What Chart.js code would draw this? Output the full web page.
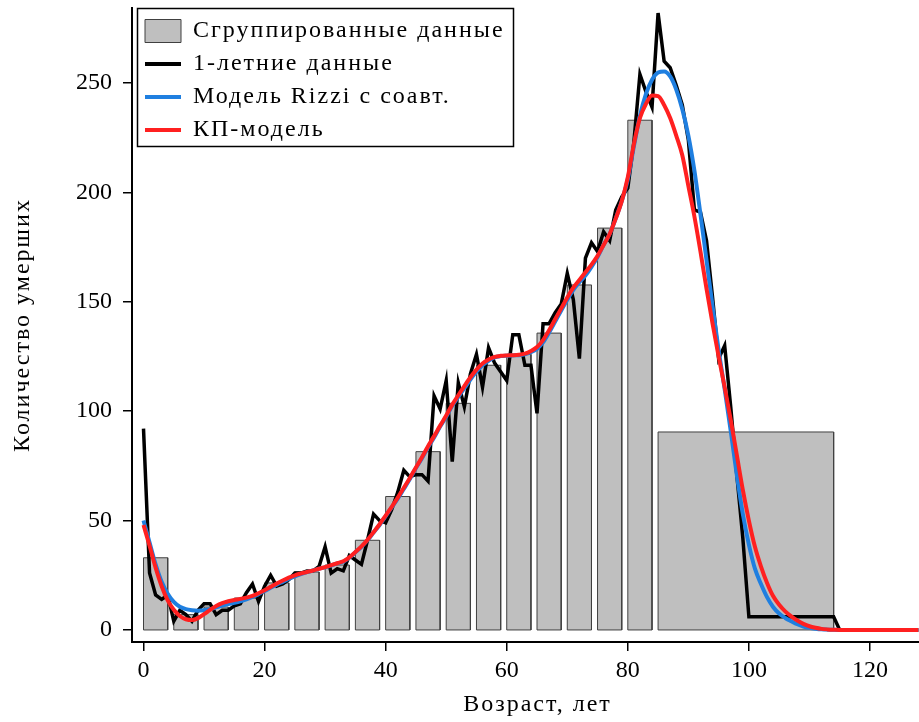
<!DOCTYPE html>
<html><head><meta charset="utf-8">
<script src="https://cdn.jsdelivr.net/npm/chart.js@4.4.1/dist/chart.umd.min.js"></script>
<style>html,body{margin:0;padding:0;background:#fff;}#wrap{width:919px;height:722px;}</style>
</head><body><div id="wrap"><canvas id="c" width="919" height="722"></canvas></div>
<script>
const ages = [0,1,2,3,4,5,6,7,8,9,10,11,12,13,14,15,16,17,18,19,20,21,22,23,24,25,26,27,28,29,30,31,32,33,34,35,36,37,38,39,40,41,42,43,44,45,46,47,48,49,50,51,52,53,54,55,56,57,58,59,60,61,62,63,64,65,66,67,68,69,70,71,72,73,74,75,76,77,78,79,80,81,82,83,84,85,86,87,88,89,90,91,92,93,94,95,96,97,98,99,100,101,102,103,104,105,106,107,108,109,110,111,112,113,114,115,116,117,118,119,120,121,122,123,124,125,126,127,128];
const oneYearDeaths = [92,26,16,14,16,4,9,7,4,9,
 12,12,7,9,9,11,12,17,21,13,
 20,25,20,21,23,26,26,27,27,29,
 38,26,28,27,34,32,30,41,53,50,
 49,55,63,73,70,71,71,68,107,101,
 114,77,113,102,117,126,111,129,122,118,
 114,135,135,121,121,99,140,140,145,149,
 163,151,124,170,177,173,182,178,192,198,
 202,223,254,246,239,282,260,257,249,240,
 224,192,191,178,152,124,130,102,71,42,
 6,6,6,6,6,6,6,6,6,6,
 6,6,6,6,6,0,0,0,0,0,
 0,0,0,0,0,0,0,0,0];
const rizziModel = [50,40,30,22,16.5,12.8,10.6,9.5,9.0,8.8,
 9.0,9.5,10.3,11.1,11.8,12.4,13.1,14.0,15.1,16.4,
 17.8,19.3,20.7,22.0,23.3,24.5,25.5,26.4,27.2,28.0,
 28.6,29.5,30.4,31.2,33,35.5,38,41,44.5,48,
 52,56,60,64.5,69,74,78.5,83.5,88,93,
 97.5,102.5,106.5,110.5,114.5,118,121,123,124.6,125.2,
 125.4,125.5,125.6,126,127,128.5,131.5,136,141,146,
 151,155.5,159,162,166,170.5,176,181,188,196,
 206,221,235,245,251.5,254.8,255.3,253,247,238,
 226,210,190,169,148,128,110,91,71,53,
 39,28,21,15,10.5,7.5,5.5,4,2.6,1.6,
 1.0,0.6,0.3,0.15,0.05,0,0,0,0,0,
 0,0,0,0,0,0,0,0,0];
const kpModel = [48,38.5,28.5,20,13.5,9.2,6.4,4.9,4.5,5.4,
 7.2,9.2,11,12.3,13.1,13.7,14.2,14.8,15.6,16.8,
 18.2,19.7,21.2,22.6,23.9,25,25.8,26.5,27.2,28,
 28.7,29.6,30.5,31.4,33.2,35.6,38.2,41.2,44.7,48.3,
 52.3,56.3,60.5,65,69.5,74.3,79,84,88.6,93.4,
 98,103,107.3,111.5,115.5,119,121.8,123.6,124.8,125.3,
 125.5,125.6,125.8,126.3,127.5,129.3,132.5,137,142,147,
 152,156.5,160,163.5,167,171,176,181,188,196,
 207,222,234,240.5,244.3,244,240,234,226,217,
 203,189,173,156,140,125,111,96,80,64,
 50,38,29,21.5,15.5,11.5,8.5,6.2,4.3,2.8,
 1.7,1.0,0.5,0.25,0.1,0,0,0,0,0,
 0,0,0,0,0,0,0,0,0];
const groupStart = [0,5,10,15,20,25,30,35,40,45,50,55,60,65,70,75,80,85];
const groupEnd = [4,9,14,19,24,29,34,39,44,49,54,59,64,69,74,79,84,114];
const groupDeaths = [33,7,10.5,14.6,21.5,26.5,29.7,41,61,81.5,103.6,121,126,135.7,157.7,183.7,233,90.5];
const seriesNames = ['Сгруппированные данные','1-летние данные','Модель Rizzi с соавт.','КП-модель'];
const xTicks = [0,20,40,60,80,100,120];
const yTicks = [0,50,100,150,200,250];
const xTitle = 'Возраст, лет';
const yTitle = 'Количество умерших';

const FONT = {family:"'Liberation Serif', serif", size:24};
const LS = '2px';
const barColor = '#bfbfbf', barEdge = '#404040';
const lineColors = ['#000000','#1f7fe0','#ff2020'];

const barOutline = [], barBottoms = [];
groupStart.forEach((s,i)=>{
  const e = groupEnd[i], v = groupDeaths[i];
  barOutline.push({x:s,y:0},{x:s,y:v},{x:e,y:v},{x:e,y:0},{x:e+0.5,y:null});
  barBottoms.push({x:s,y:0},{x:e,y:0},{x:e+0.5,y:null});
});
const toXY = arr => ages.map((a,i)=>({x:a,y:arr[i]}));

const textStyle = {
  id:'textStyle',
  afterLayout(chart){
    const lg = chart.legend;
    if (lg) { lg.top = 10; lg.left = 136; lg.bottom = lg.top + lg.height; lg.right = lg.left + lg.width + 80; }
  },
  beforeDraw(chart){
    Object.values(chart.scales).forEach(s=>{
      if (s._wrappedTitle) return;
      const orig = s.drawTitle;
      s.drawTitle = function(){
        const ctx=this.ctx; ctx.save(); ctx.letterSpacing = LS;
        if (this.axis==='x') ctx.translate(12,3);
        orig.apply(this, arguments); ctx.restore();
      };
      s._wrappedTitle = true;
    });
    const lg = chart.legend;
    if (lg && !lg._wrapped) {
      const o = lg._draw;
      lg._draw = function(){ const ctx=this.ctx; ctx.save(); ctx.letterSpacing=LS; o.apply(this, arguments); ctx.restore(); };
      lg._wrapped = true;
    }
  },
  afterDraw(chart){
    const lg = chart.legend; if(!lg || !lg.legendHitBoxes || !lg.legendHitBoxes.length) return;
    const ctx = chart.ctx; ctx.save();
    ctx.font = Chart.helpers.toFont(FONT).string; ctx.letterSpacing = LS;
    let l=Infinity,t=Infinity,r=-Infinity,b=-Infinity;
    const bw = lg.options.labels.boxWidth, half = FONT.size/2;
    lg.legendHitBoxes.forEach((h,i)=>{
      const w = ctx.measureText(lg.legendItems[i].text).width;
      l=Math.min(l,h.left); t=Math.min(t,h.top);
      r=Math.max(r,h.left+bw+half+w); b=Math.max(b,h.top+h.height);
    });
    ctx.letterSpacing='0px';
    ctx.strokeStyle='#000'; ctx.lineWidth=1.5;
    ctx.strokeRect(Math.round(l-8)+0.5, Math.round(t-11)+0.5, Math.round(r-l+16), Math.round(b-t+15));
    ctx.restore();
  }
};

new Chart(document.getElementById('c'), {
  type:'line',
  data:{datasets:[
    {label:seriesNames[3], data:toXY(kpModel), borderColor:lineColors[2], borderWidth:4, pointRadius:0, cubicInterpolationMode:'monotone', fill:false, order:1},
    {label:seriesNames[2], data:toXY(rizziModel), borderColor:lineColors[1], borderWidth:4, pointRadius:0, cubicInterpolationMode:'monotone', fill:false, order:2},
    {label:seriesNames[1], data:toXY(oneYearDeaths), borderColor:lineColors[0], borderWidth:3.5, pointRadius:0, tension:0, fill:false, order:3, borderJoinStyle:'miter'},
    {label:'barBottoms', data:barBottoms, borderColor:barEdge, borderWidth:1, pointRadius:0, fill:false, order:4, spanGaps:false},
    {label:seriesNames[0], data:barOutline, borderColor:barEdge, backgroundColor:barColor, borderWidth:1, pointRadius:0, fill:'origin', order:5, spanGaps:false}
  ]},
  options:{
    responsive:false, animation:false, devicePixelRatio:1,
    layout:{padding:{top:8,left:0,right:0,bottom:0}},
    plugins:{
      tooltip:{enabled:false},
      legend:{
        position:'chartArea', align:'start',
        labels:{
          font:FONT, color:'#000', usePointStyle:true, pointStyleWidth:36, boxWidth:36, boxHeight:23, padding:9,
          generateLabels:()=>[
            {text:seriesNames[0], fillStyle:barColor, strokeStyle:barEdge, lineWidth:1, pointStyle:'rect', fontColor:'#000'},
            {text:seriesNames[1], fillStyle:lineColors[0], strokeStyle:lineColors[0], lineWidth:4, pointStyle:'line', fontColor:'#000'},
            {text:seriesNames[2], fillStyle:lineColors[1], strokeStyle:lineColors[1], lineWidth:4, pointStyle:'line', fontColor:'#000'},
            {text:seriesNames[3], fillStyle:lineColors[2], strokeStyle:lineColors[2], lineWidth:4, pointStyle:'line', fontColor:'#000'}
          ]
        }
      }
    },
    scales:{
      x:{type:'linear', position:'bottom', min:-1.9, max:128.1,
        afterBuildTicks:s=>{s.ticks = xTicks.map(v=>({value:v}));},
        afterFit:s=>{s.height=80; s.paddingLeft=0; s.paddingRight=0;},
        grid:{drawOnChartArea:false, drawTicks:true, tickLength:9, color:'#000', lineWidth:1.5},
        border:{display:true, color:'#000', width:2},
        ticks:{color:'#000', font:FONT, padding:5, maxRotation:0, autoSkip:false},
        title:{display:true, text:xTitle, color:'#000', font:FONT, padding:{top:4,bottom:6}}
      },
      y:{type:'linear', position:'left', min:-5.5, max:284.3,
        afterBuildTicks:s=>{s.ticks = yTicks.map(v=>({value:v}));},
        afterFit:s=>{s.width=132; s.paddingTop=0; s.paddingBottom=0;},
        grid:{drawOnChartArea:false, drawTicks:true, tickLength:9, color:'#000', lineWidth:1.5},
        border:{display:true, color:'#000', width:2},
        ticks:{color:'#000', font:FONT, padding:11, autoSkip:false},
        title:{display:true, text:yTitle, color:'#000', font:FONT, padding:{top:8,bottom:4}}
      }
    }
  },
  plugins:[textStyle]
});
</script></body></html>
